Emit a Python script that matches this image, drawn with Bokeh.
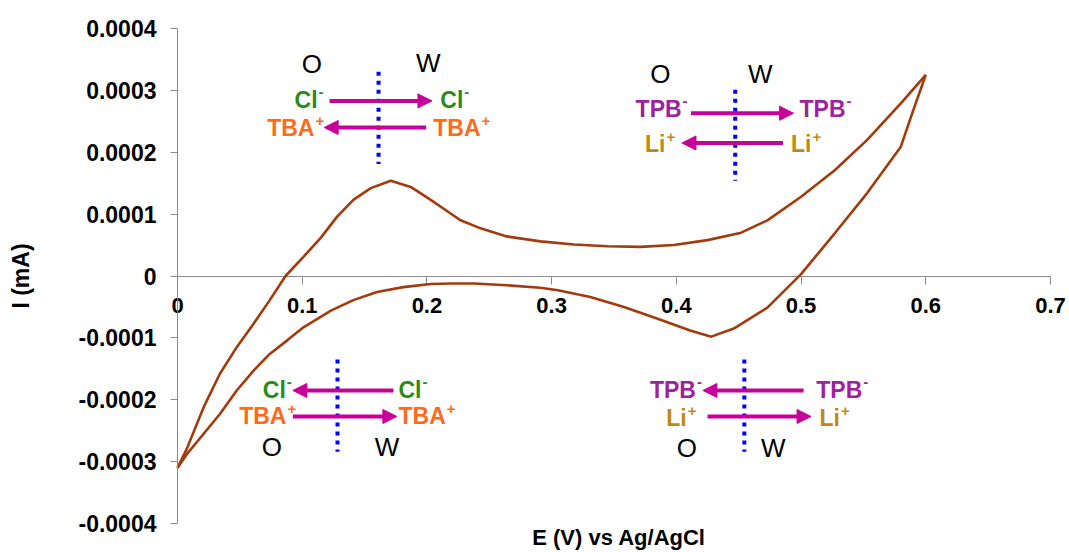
import math
from bokeh.plotting import figure
from bokeh.models import Range1d, FixedTicker, NumeralTickFormatter, Arrow, NormalHead
from bokeh.core.properties import value
from bokeh.embed import file_html
from bokeh.resources import INLINE

# ---------------- data ----------------
fwd_E = [0, 0.0075, 0.021, 0.034, 0.0475, 0.061, 0.074, 0.0866, 0.101, 0.115, 0.128,
         0.141, 0.155, 0.171, 0.187, 0.203, 0.219, 0.227, 0.243, 0.264, 0.291, 0.318,
         0.345, 0.371, 0.398, 0.425, 0.452, 0.473, 0.5, 0.527, 0.553, 0.58, 0.6]
fwd_I = [-0.00031, -0.000279, -0.000212, -0.000158, -0.000115, -0.000077, -0.000039, 0.0,
         0.000031, 0.000062, 0.000096, 0.000123, 0.000142, 0.000154, 0.000144, 0.000123,
         0.000101, 0.00009, 0.000077, 0.000064, 0.000056, 0.000051, 0.000048, 0.000047,
         0.00005, 0.000058, 0.00007, 0.00009, 0.000128, 0.000171, 0.00022, 0.000279, 0.000325]

rev_E = [0.6, 0.59, 0.58, 0.553, 0.527, 0.5, 0.473, 0.446, 0.428, 0.411, 0.385, 0.358,
         0.331, 0.305, 0.291, 0.264, 0.238, 0.219, 0.203, 0.181, 0.16, 0.141, 0.123,
         0.101, 0.088, 0.074, 0.061, 0.0475, 0.034, 0.021, 0.0075, 0]
rev_I = [0.000325, 0.000268, 0.000209, 0.000134, 0.000069, 0.000003, -0.000051, -0.000085,
         -0.000098, -0.000088, -0.000069, -0.00005, -0.000034, -0.000023, -0.000019,
         -0.000015, -0.000012, -0.000012, -0.000013, -0.000018, -0.000026, -0.000039,
         -0.000056, -0.000083, -0.000104, -0.000126, -0.000153, -0.000185, -0.000223,
         -0.000255, -0.000288, -0.00031]

x_ticks = [0, 0.1, 0.2, 0.3, 0.4, 0.5, 0.6, 0.7]
y_ticks = [-0.0004, -0.0003, -0.0002, -0.0001, 0, 0.0001, 0.0002, 0.0003, 0.0004]
x_title = "E (V) vs Ag/AgCl"
y_title = "I (mA)"

# ---------------- styles ----------------
FONT = "Liberation Sans"
CURVE = "#A33A0C"
MAG = "#C8009A"
BLUE = "#0000FF"
AXIS = "#8C8C8C"
C_CL = "#2A8A1A"
C_TBA = "#FF6A1A"
C_TPB = "#A0219E"
C_LI = "#C08A12"

W_PX, H_PX = 1069, 552
# axis box inside the canvas (pixels): x 0 -> 0.7 spans 177..1050, y 0.0004 -> -0.0004 spans 28..523
X0_PX, X1_PX, Y0_PX, Y1_PX = 177, 1050, 28, 523
xmin, xmax = x_ticks[0], x_ticks[-1]
ymin, ymax = y_ticks[0], y_ticks[-1]
dx = (xmax - xmin) / (X1_PX - X0_PX)
dy = (ymax - ymin) / (Y1_PX - Y0_PX)
xr = Range1d(xmin - X0_PX * dx, xmax + (W_PX - X1_PX) * dx)
yr = Range1d(ymin - (H_PX - Y1_PX) * dy, ymax + Y0_PX * dy)

p = figure(width=W_PX, height=H_PX, x_range=xr, y_range=yr,
           output_backend="svg", toolbar_location=None,
           min_border_left=0, min_border_right=0, min_border_top=0, min_border_bottom=0)
p.xgrid.visible = False
p.ygrid.visible = False
p.outline_line_color = None
p.background_fill_color = "white"
p.border_fill_color = "white"

# x axis crossing at I = 0
xa = p.xaxis[0]
xa.fixed_location = 0
xa.bounds = (xmin, xmax)
xa.level = "underlay"
xa.ticker = FixedTicker(ticks=x_ticks)
xa.formatter = NumeralTickFormatter(format="0.[0]")
xa.axis_line_color = AXIS
xa.major_tick_line_color = AXIS
xa.major_tick_out = 8
xa.major_tick_in = 0
xa.minor_tick_line_color = None
xa.major_label_standoff = 14
xa.major_label_text_font = FONT
xa.major_label_text_font_style = "bold"
xa.major_label_text_font_size = "22px"
xa.major_label_text_color = "black"

ya = p.yaxis[0]
ya.fixed_location = xmin
ya.bounds = (ymin, ymax)
ya.ticker = FixedTicker(ticks=y_ticks)
ya.formatter = NumeralTickFormatter(format="0.[0000]")
ya.axis_line_color = AXIS
ya.major_tick_line_color = AXIS
ya.major_tick_out = 7
ya.major_tick_in = 0
ya.minor_tick_line_color = None
ya.major_label_standoff = 14
ya.major_label_text_font = FONT
ya.major_label_text_font_style = "bold"
ya.major_label_text_font_size = "23px"
ya.major_label_text_color = "black"

# axis titles
p.text(x=[(xmin + xmax) / 2 + 5 * dx], y=[ymin - 14 * dy], text=[x_title],
       text_align="center", text_baseline="alphabetic", text_font=value(FONT),
       text_font_style="bold", text_font_size="22px", text_color="black")
p.text(x=[xmin - 157 * dx], y=[(ymin + ymax) / 2], text=[y_title], angle=math.pi / 2,
       text_align="center", text_baseline="middle", text_font=value(FONT),
       text_font_style="bold", text_font_size="23px", text_color="black")

# CV curve
p.line(fwd_E, fwd_I, line_color=CURVE, line_width=2.6)
p.line(rev_E, rev_I, line_color=CURVE, line_width=2.6)

# ---------------- annotation schemes ----------------
# dotted interface lines
blue_x = [0.1612, 0.1283, 0.4472, 0.4545]
blue_y0 = [0.00033, -0.000135, 0.000301, -0.000135]
blue_y1 = [0.000181, -0.000284, 0.000154, -0.000284]
p.segment(x0=blue_x, y0=blue_y0, x1=blue_x, y1=blue_y1, line_color=BLUE,
          line_width=4, line_dash="4 5")

# arrows (x_start, y_start, x_end, y_end)
arrows = [
    (0.1219, 0.000283, 0.204, 0.000283),
    (0.1994, 0.00024, 0.1176, 0.00024),
    (0.1732, -0.000185, 0.0925, -0.000185),
    (0.0925, -0.000227, 0.1759, -0.000227),
    (0.4117, 0.000263, 0.494, 0.000263),
    (0.4855, 0.000215, 0.4045, 0.000215),
    (0.502, -0.000185, 0.4213, -0.000185),
    (0.425, -0.000227, 0.508, -0.000227),
]
for xs, ys, xe, ye in arrows:
    p.add_layout(Arrow(end=NormalHead(size=14, fill_color=MAG, line_color=MAG, line_width=1),
                       x_start=xs, y_start=ys, x_end=xe, y_end=ye,
                       line_color=MAG, line_width=4))

# O / W phase labels
ow = [
    (0.1078, 0.000343, "O"), (0.201, 0.000344, "W"),
    (0.0757, -0.000277, "O"), (0.1679, -0.000277, "W"),
    (0.3871, 0.000326, "O"), (0.4673, 0.000326, "W"),
    (0.4085, -0.000278, "O"), (0.4777, -0.000278, "W"),
]
p.text(x=[o[0] for o in ow], y=[o[1] for o in ow], text=[o[2] for o in ow],
       text_align="center", text_baseline="middle", text_font=value(FONT),
       text_font_size="26px", text_color="black")

# ion labels with superscript charge
WID = {"C": 0.722, "l": 0.278, "T": 0.611, "B": 0.722, "A": 0.722, "P": 0.667,
       "L": 0.611, "i": 0.278, "-": 0.333, "+": 0.584}
F_ION = 23
F_SIG = 15


def ion(x, y, base, sign, color, anchor):
    wb = sum(WID[c] for c in base) * F_ION
    ws = WID[sign] * F_SIG
    common = dict(text_baseline="middle", text_font=value(FONT), text_font_style="bold",
                  text_color=color)
    oy = -8 if sign == "-" else -7
    if anchor == "left":
        p.text(x=[x], y=[y], text=[base], text_align="left", text_font_size=f"{F_ION}px", **common)
        p.text(x=[x], y=[y], text=[sign], text_align="left", x_offset=wb + 1, y_offset=oy,
               text_font_size=f"{F_SIG}px", **common)
    else:
        p.text(x=[x], y=[y], text=[sign], text_align="right", y_offset=oy,
               text_font_size=f"{F_SIG}px", **common)
        p.text(x=[x], y=[y], text=[base], text_align="right", x_offset=-(ws + 1),
               text_font_size=f"{F_ION}px", **common)


ions = [
    (0.1171, 0.000284, "Cl", "-", C_CL, "right"),
    (0.2107, 0.000284, "Cl", "-", C_CL, "left"),
    (0.1176, 0.00024, "TBA", "+", C_TBA, "right"),
    (0.2051, 0.00024, "TBA", "+", C_TBA, "left"),
    (0.0917, -0.000185, "Cl", "-", C_CL, "right"),
    (0.1772, -0.000185, "Cl", "-", C_CL, "left"),
    (0.0952, -0.000227, "TBA", "+", C_TBA, "right"),
    (0.1772, -0.000227, "TBA", "+", C_TBA, "left"),
    (0.4090, 0.00027, "TPB", "-", C_TPB, "right"),
    (0.4988, 0.00027, "TPB", "-", C_TPB, "left"),
    (0.3991, 0.000214, "Li", "+", C_LI, "right"),
    (0.4919, 0.000214, "Li", "+", C_LI, "left"),
    (0.4205, -0.000185, "TPB", "-", C_TPB, "right"),
    (0.5122, -0.000185, "TPB", "-", C_TPB, "left"),
    (0.4161, -0.00023, "Li", "+", C_LI, "right"),
    (0.5148, -0.00023, "Li", "+", C_LI, "left"),
]
for args in ions:
    ion(*args)

open("out.html", "w").write(file_html(p, INLINE))
